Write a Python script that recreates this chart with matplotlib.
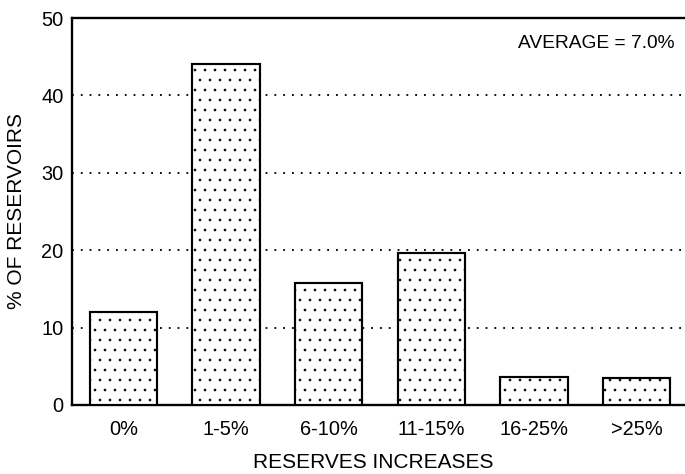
import numpy as np
import matplotlib.pyplot as plt

plt.rcParams['font.family'] = ['Liberation Sans', 'DejaVu Sans']
plt.rcParams['hatch.linewidth'] = 0.4

categories = ['0%', '1-5%', '6-10%', '11-15%', '16-25%', '>25%']
pct_reservoirs = [12.0, 44.0, 15.8, 19.7, 3.6, 3.5]
yticks = [0, 10, 20, 30, 40, 50]
gridlevels = [10, 20, 30, 40]

fig = plt.figure(figsize=(685/120, 474/120), dpi=120)
ax = fig.add_axes([72/685, 1 - 405/474, 616/685, (405 - 18)/474])

x = np.arange(len(categories))
ax.bar(x, pct_reservoirs, width=0.655, color='white', edgecolor='black',
       linewidth=1.3, hatch='..', zorder=3)

for g in gridlevels:
    ax.axhline(g, color='black', linewidth=1.1, linestyle=(0, (1, 3.8)), zorder=1)

ax.set_xlim(-0.5, 5.5)
ax.set_ylim(0, 50)
ax.set_xticks(x)
ax.set_xticklabels(categories)
ax.set_yticks(yticks)
ax.tick_params(axis='both', length=0, labelsize=12)
ax.tick_params(axis='y', pad=5)
ax.tick_params(axis='x', pad=9)

for s in ['left', 'top', 'bottom', 'right']:
    ax.spines[s].set_linewidth(1.4)

ax.text(0.978, 0.935, 'AVERAGE = 7.0%', transform=ax.transAxes,
        ha='right', va='center', fontsize=11.5)

fig.text(373/685, 1 - 463/474, 'RESERVES INCREASES', ha='center', va='center',
         fontsize=12.5)
fig.text(17/685, 1 - 211/474, '% OF RESERVOIRS', ha='center', va='center',
         rotation=90, fontsize=12.5)

plt.savefig('out.png', dpi=120)
